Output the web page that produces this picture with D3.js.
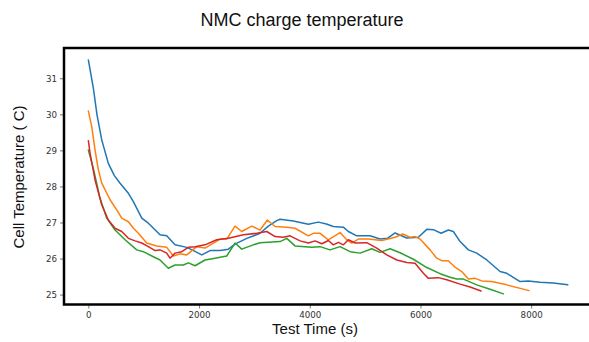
<!DOCTYPE html>
<html>
<head>
<meta charset="utf-8">
<script src="https://cdn.jsdelivr.net/npm/d3@7"></script>
<style>
  html, body { margin: 0; padding: 0; background: #fff; }
  svg { display: block; }
</style>
</head>
<body>
<svg id="chart" width="589" height="342"></svg>
<script>
// Charge runs: test time (s) and cell temperature (C)
const blueTime = [0, 90, 157, 242, 361, 470, 573, 723, 813, 965, 1084, 1295, 1416, 1566, 1778, 1900, 2048, 2199, 2380, 2530, 2650, 2862, 3102, 3252, 3403, 3463, 3704, 3975, 4155, 4300, 4426, 4607, 4697, 4849, 5089, 5270, 5402, 5541, 5752, 5962, 6114, 6233, 6372, 6504, 6594, 6716, 6866, 7017, 7198, 7438, 7559, 7800, 7950, 8161, 8401, 8661];
const blueTemp = [31.51, 30.73, 29.98, 29.29, 28.64, 28.30, 28.09, 27.81, 27.58, 27.12, 26.98, 26.66, 26.63, 26.38, 26.31, 26.22, 26.10, 26.22, 26.22, 26.26, 26.40, 26.56, 26.70, 26.90, 27.05, 27.09, 27.04, 26.95, 27.01, 26.96, 26.89, 26.87, 26.75, 26.63, 26.63, 26.54, 26.56, 26.71, 26.57, 26.59, 26.81, 26.80, 26.70, 26.79, 26.75, 26.47, 26.24, 26.15, 25.96, 25.64, 25.59, 25.36, 25.38, 25.34, 25.32, 25.27];

const orangeTime = [0, 61, 121, 181, 242, 392, 513, 603, 723, 814, 904, 1054, 1235, 1416, 1536, 1657, 1778, 1958, 2108, 2259, 2379, 2500, 2650, 2771, 2952, 3102, 3234, 3373, 3585, 3734, 3975, 4065, 4186, 4336, 4547, 4668, 4759, 4878, 5059, 5301, 5541, 5680, 5812, 5903, 5993, 6173, 6294, 6385, 6504, 6625, 6746, 6866, 6987, 7107, 7288, 7559, 7962];
const orangeTemp = [30.09, 29.66, 29.01, 28.46, 28.09, 27.63, 27.35, 27.12, 27.02, 26.84, 26.70, 26.43, 26.35, 26.31, 26.07, 26.13, 26.10, 26.33, 26.29, 26.43, 26.54, 26.54, 26.90, 26.75, 26.90, 26.79, 27.07, 26.89, 26.87, 26.84, 26.63, 26.70, 26.70, 26.52, 26.72, 26.52, 26.43, 26.54, 26.54, 26.50, 26.59, 26.68, 26.59, 26.61, 26.54, 26.24, 26.01, 25.94, 25.94, 25.76, 25.64, 25.43, 25.45, 25.38, 25.36, 25.27, 25.11];

const greenTime = [0, 90, 211, 332, 482, 663, 874, 994, 1174, 1295, 1445, 1566, 1717, 1807, 1928, 2108, 2289, 2500, 2650, 2771, 2981, 3102, 3463, 3585, 3734, 3915, 4036, 4186, 4366, 4547, 4728, 4909, 5120, 5270, 5451, 5632, 5872, 6114, 6354, 6534, 6656, 6775, 7017, 7258, 7498];
const greenTemp = [29.01, 28.50, 27.67, 27.12, 26.79, 26.52, 26.24, 26.19, 26.05, 25.96, 25.73, 25.82, 25.82, 25.88, 25.80, 25.96, 26.01, 26.07, 26.43, 26.26, 26.38, 26.44, 26.47, 26.56, 26.35, 26.33, 26.31, 26.33, 26.24, 26.33, 26.19, 26.15, 26.27, 26.17, 26.27, 26.16, 25.98, 25.75, 25.58, 25.48, 25.43, 25.43, 25.27, 25.15, 25.02];

const redTime = [0, 31, 121, 242, 361, 482, 603, 723, 844, 964, 1084, 1205, 1295, 1416, 1475, 1566, 1687, 1807, 1928, 2108, 2319, 2530, 2801, 3042, 3223, 3373, 3523, 3644, 3825, 3975, 4096, 4217, 4336, 4426, 4517, 4607, 4697, 4819, 5030, 5210, 5391, 5572, 5752, 5903, 6053, 6143, 6324, 6475, 6716, 6896, 7095];
const redTemp = [29.27, 28.92, 28.18, 27.49, 27.07, 26.84, 26.75, 26.56, 26.49, 26.43, 26.33, 26.22, 26.24, 26.15, 26.01, 26.15, 26.19, 26.31, 26.33, 26.38, 26.52, 26.56, 26.66, 26.70, 26.75, 26.61, 26.59, 26.63, 26.49, 26.43, 26.49, 26.41, 26.50, 26.38, 26.45, 26.38, 26.52, 26.43, 26.44, 26.29, 26.10, 25.96, 25.89, 25.87, 25.59, 25.45, 25.47, 25.41, 25.29, 25.21, 25.10];

const xTicks = [0, 2000, 4000, 6000, 8000];
const yTicks = [25, 26, 27, 28, 29, 30, 31];

const titleText = "NMC charge temperature";
const xLabel = "Test Time (s)";
const yLabel = "Cell Temperature ( C)";

const series = [
  { time: blueTime, temp: blueTemp, color: "#1f77b4" },
  { time: orangeTime, temp: orangeTemp, color: "#ff7f0e" },
  { time: greenTime, temp: greenTemp, color: "#2ca02c" },
  { time: redTime, temp: redTemp, color: "#d62728" }
];

const svg = d3.select("#chart");

// Plot area (right spine sits just past the canvas edge)
const plotLeft = 64, plotRight = 591.5, plotTop = 48, plotBottom = 304.5;

const x = d3.scaleLinear().domain([-440, 9090]).range([plotLeft, plotRight]);
const y = d3.scaleLinear().domain([24.725, 31.84]).range([plotBottom, plotTop]);

const tickFont = "'DejaVu Sans', sans-serif";
const labelFont = "'Liberation Sans', Arial, sans-serif";

// Data lines
const line = d3.line()
  .x(d => x(d[0]))
  .y(d => y(d[1]));

const plot = svg.append("g");
series.forEach(s => {
  const pts = s.time.map((t, i) => [t, s.temp[i]]);
  plot.append("path")
    .datum(pts)
    .attr("fill", "none")
    .attr("stroke", s.color)
    .attr("stroke-width", 1.5)
    .attr("stroke-linejoin", "round")
    .attr("stroke-linecap", "round")
    .attr("d", line);
});

// Axes
const xAxis = d3.axisBottom(x).tickValues(xTicks).tickSize(4).tickPadding(3).tickFormat(d3.format("d"));
const gx = svg.append("g").attr("transform", `translate(0,${plotBottom})`).call(xAxis);
gx.select(".domain").remove();
gx.selectAll("line").attr("stroke", "#555").attr("stroke-width", 0.8);
gx.selectAll("text").attr("font-family", tickFont).attr("font-size", 8.7).attr("fill", "#333");

const yAxis = d3.axisLeft(y).tickValues(yTicks).tickSize(4).tickPadding(3).tickFormat(d3.format("d"));
const gy = svg.append("g").attr("transform", `translate(${plotLeft},0)`).call(yAxis);
gy.select(".domain").remove();
gy.selectAll("line").attr("stroke", "#555").attr("stroke-width", 0.8);
gy.selectAll("text").attr("font-family", tickFont).attr("font-size", 8.7).attr("fill", "#333");

// Frame
svg.append("rect")
  .attr("x", plotLeft).attr("y", plotTop)
  .attr("width", plotRight - plotLeft).attr("height", plotBottom - plotTop)
  .attr("fill", "none")
  .attr("stroke", "#000")
  .attr("stroke-width", 2.5);

// Title and axis labels
svg.append("text")
  .attr("x", 302).attr("y", 26)
  .attr("text-anchor", "middle")
  .attr("font-family", labelFont)
  .attr("font-size", 18)
  .attr("fill", "#111")
  .text(titleText);

svg.append("text")
  .attr("x", 315).attr("y", 334)
  .attr("text-anchor", "middle")
  .attr("font-family", labelFont)
  .attr("font-size", 15)
  .attr("fill", "#111")
  .text(xLabel);

svg.append("text")
  .attr("transform", "translate(24,177) rotate(-90)")
  .attr("text-anchor", "middle")
  .attr("font-family", labelFont)
  .attr("font-size", 15)
  .attr("fill", "#111")
  .text(yLabel);
</script>
</body>
</html>
